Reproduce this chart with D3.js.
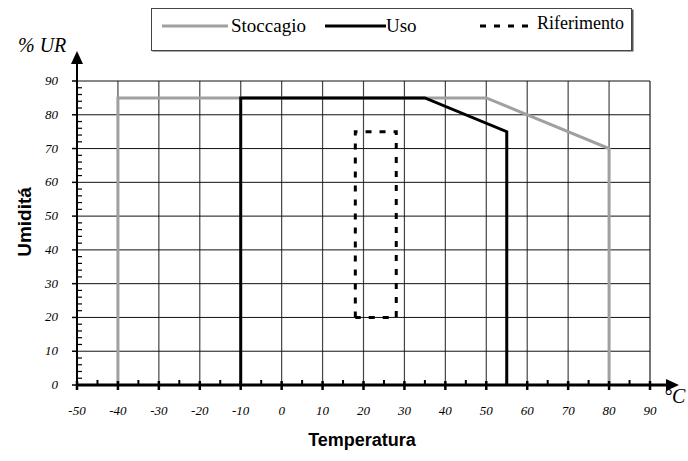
<!DOCTYPE html>
<html>
<head>
<meta charset="utf-8">
<script src="https://cdn.jsdelivr.net/npm/d3@7"></script>
<style>
  body { margin: 0; background: #fff; }
  svg { display: block; }
  .serif { font-family: 'Liberation Serif', 'DejaVu Serif', serif; }
  .sans { font-family: 'Liberation Sans', 'DejaVu Sans', sans-serif; font-weight: bold; }
</style>
</head>
<body>
<svg id="chart" width="688" height="461"></svg>
<script>
// data
const xTicks = [-50, -40, -30, -20, -10, 0, 10, 20, 30, 40, 50, 60, 70, 80, 90]
const yTicks = [0, 10, 20, 30, 40, 50, 60, 70, 80, 90]

const storageTemp = [-40, -40, 50, 80, 80]
const storageRH   = [0, 85, 85, 70, 0]

const useTemp = [-10, -10, 35, 55, 55]
const useRH   = [0, 85, 85, 75, 0]

const refTemp = [18, 18, 28, 28, 18]
const refRH   = [20, 75, 75, 20, 20]

const seriesNames = ['Stoccagio', 'Uso', 'Riferimento']

const svg = d3.select('#chart')
const x = d3.scaleLinear().domain([-50, 90]).range([77, 650])
const y = d3.scaleLinear().domain([0, 90]).range([385, 81])

// grid
const grid = svg.append('g')
grid.selectAll('.vg').data(xTicks.slice(1))
    .enter().append('line')
    .attr('x1', d => x(d)).attr('x2', d => x(d))
    .attr('y1', y(0)).attr('y2', y(90))
    .attr('stroke', d => d === 90 ? '#777' : '#444').attr('stroke-width', d => d === 90 ? 2 : 1.2)
grid.selectAll('.hg').data(yTicks.slice(1))
    .enter().append('line')
    .attr('x1', x(-50)).attr('x2', x(90))
    .attr('y1', d => y(d)).attr('y2', d => y(d))
    .attr('stroke', '#111').attr('stroke-width', 1)

// series
const line = d3.line().x(d => x(d[0])).y(d => y(d[1]))
const zip = (a, b) => a.map((v, i) => [v, b[i]])

svg.append('path').attr('d', line(zip(storageTemp, storageRH)))
    .attr('fill', 'none').attr('stroke', '#a0a0a0').attr('stroke-width', 3)
svg.append('path').attr('d', line(zip(useTemp, useRH)))
    .attr('fill', 'none').attr('stroke', '#000').attr('stroke-width', 3)
svg.append('path').attr('d', line(zip(refTemp, refRH)))
    .attr('fill', 'none').attr('stroke', '#000').attr('stroke-width', 3)
    .attr('stroke-dasharray', '6,8')

// x axis
const xAxis = svg.append('g')
xAxis.append('line')
    .attr('x1', x(-50)).attr('x2', 668)
    .attr('y1', y(0)).attr('y2', y(0))
    .attr('stroke', '#000').attr('stroke-width', 3)
xAxis.append('path')
    .attr('d', `M666,${y(0) - 6} L679,${y(0)} L666,${y(0) + 6} Z`)
    .attr('fill', '#000')
xAxis.selectAll('.xmaj').data(xTicks)
    .enter().append('line')
    .attr('x1', d => x(d)).attr('x2', d => x(d))
    .attr('y1', y(0) - 4).attr('y2', y(0) + 5)
    .attr('stroke', '#000').attr('stroke-width', 2.5)
xAxis.selectAll('.xmin').data(xTicks.slice(0, -1))
    .enter().append('line')
    .attr('x1', d => x(d + 5)).attr('x2', d => x(d + 5))
    .attr('y1', y(0) - 5).attr('y2', y(0))
    .attr('stroke', '#000').attr('stroke-width', 2)
xAxis.selectAll('.xl').data(xTicks)
    .enter().append('text')
    .attr('class', 'serif')
    .attr('x', d => x(d)).attr('y', 415)
    .attr('text-anchor', 'middle')
    .attr('font-style', 'italic').attr('font-size', 13)
    .text(d => d)
svg.append('text').attr('class', 'serif').attr('x', 664).attr('y', 403)
    .attr('font-style', 'italic').attr('font-size', 20).text('°C')

// y axis
const yAxis = svg.append('g')
yAxis.append('line')
    .attr('x1', x(-50)).attr('x2', x(-50))
    .attr('y1', y(0) + 2).attr('y2', 62)
    .attr('stroke', '#000').attr('stroke-width', 2)
yAxis.append('path')
    .attr('d', `M${x(-50) - 6},64 L${x(-50)},51 L${x(-50) + 6},64 Z`)
    .attr('fill', '#000')
yAxis.selectAll('.ymaj').data(yTicks)
    .enter().append('line')
    .attr('x1', x(-50) - 5).attr('x2', x(-50))
    .attr('y1', d => y(d)).attr('y2', d => y(d))
    .attr('stroke', '#000').attr('stroke-width', 1.5)
const minor = []
yTicks.slice(0, -1).forEach(t => [2, 4, 6, 8].forEach(m => minor.push(t + m)))
yAxis.selectAll('.ymin').data(minor)
    .enter().append('line')
    .attr('x1', x(-50)).attr('x2', x(-50) + 5)
    .attr('y1', d => y(d)).attr('y2', d => y(d))
    .attr('stroke', '#000').attr('stroke-width', 1.2)
yAxis.selectAll('.yl').data(yTicks)
    .enter().append('text')
    .attr('class', 'serif')
    .attr('x', 58).attr('y', d => y(d) + 4)
    .attr('text-anchor', 'end')
    .attr('font-style', 'italic').attr('font-size', 13)
    .text(d => d)
svg.append('text').attr('class', 'serif').attr('x', 18).attr('y', 52)
    .attr('font-style', 'italic').attr('font-size', 20).text('% UR')

// axis titles
svg.append('text').attr('class', 'sans').attr('x', 362).attr('y', 446)
    .attr('text-anchor', 'middle').attr('font-size', 18)
    .text('Temperatura')
svg.append('text').attr('class', 'sans')
    .attr('transform', 'translate(31,222) rotate(-90)')
    .attr('text-anchor', 'middle').attr('font-size', 19)
    .text('Umiditá')

// legend
const lg = svg.append('g')
lg.append('rect').attr('x', 152.5).attr('y', 9.5).attr('width', 481).attr('height', 42)
    .attr('fill', '#555')
lg.append('rect').attr('x', 151.5).attr('y', 8.5).attr('width', 480).attr('height', 42)
    .attr('fill', '#fff').attr('stroke', '#444').attr('stroke-width', 1)
const legendItems = [
    {x1: 162, x2: 228, tx: 231, ty: 32, size: 19, color: '#a0a0a0', dash: null},
    {x1: 325, x2: 386, tx: 386, ty: 32, size: 19, color: '#000', dash: null},
    {x1: 480, x2: 534, tx: 537, ty: 29, size: 18, color: '#000', dash: '6,8'}
]
legendItems.forEach((it, i) => {
    lg.append('line').attr('x1', it.x1).attr('x2', it.x2).attr('y1', 26).attr('y2', 26)
        .attr('stroke', it.color).attr('stroke-width', 3)
        .attr('stroke-dasharray', it.dash)
    lg.append('text').attr('class', 'serif').attr('x', it.tx).attr('y', it.ty)
        .attr('font-size', it.size).text(seriesNames[i])
})
</script>
</body>
</html>
